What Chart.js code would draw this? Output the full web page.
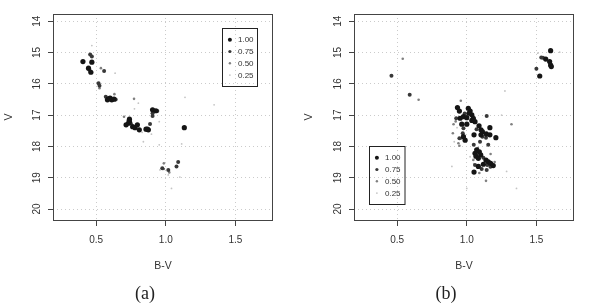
<!DOCTYPE html>
<html>
<head>
<meta charset="utf-8">
<script src="https://cdn.jsdelivr.net/npm/chart.js@4.4.0/dist/chart.umd.min.js"></script>
<style>
  body { margin: 0; background: #fff; }
  #wrap { position: relative; width: 600px; height: 303px; }
  .panel { position: absolute; top: 0; width: 300px; height: 303px; }
  .cap { position: absolute; font-family: "Liberation Serif", serif; font-size: 18px; color: #222; transform: translate(-50%, -50%); }
</style>
</head>
<body>
<div id="wrap">
  <div class="panel" style="left:0"><canvas id="chartA" width="300" height="303"></canvas></div>
  <div class="panel" style="left:300px"><canvas id="chartB" width="300" height="303"></canvas></div>
  <div class="cap" style="left:145px; top:293px">(a)</div>
  <div class="cap" style="left:446px; top:293px">(b)</div>
</div>
<script>
/*---- data ----*/
var bvTicks = [0.5, 1.0, 1.5];
var vTicks = [14, 15, 16, 17, 18, 19, 20];
var probLabels = ['1.00', '0.75', '0.50', '0.25'];

// panel (a)
var a100 = [[0.405,15.29],[0.469,15.31],[0.445,15.50],[0.462,15.63],[0.588,16.48],[0.600,16.46],[0.612,16.51],
  [0.628,16.49],[0.581,16.51],[0.905,16.83],[0.929,16.86],[0.739,17.13],[0.739,17.21],[0.732,17.26],[0.715,17.31],
  [0.762,17.37],[0.779,17.40],[0.796,17.31],[0.810,17.47],[0.858,17.45],[0.875,17.47],[0.868,17.45],[1.133,17.40]];
var a75 = [[0.457,15.06],[0.469,15.13],[0.452,15.56],[0.557,15.59],[0.517,15.98],[0.524,16.06],[0.569,16.41],
  [0.640,16.50],[0.939,16.87],[0.905,16.94],[0.905,17.03],[0.748,17.26],[0.887,17.28],[0.975,18.70],[1.018,18.75],
  [1.077,18.64],[1.089,18.50]];
var a50 = [[0.534,15.50],[0.524,16.14],[0.631,16.33],[0.772,16.48],[0.700,17.05],[0.986,18.54],[0.986,18.72],
  [1.025,18.83],[0.725,17.18]];
var a25 = [[0.469,14.78],[0.636,15.66],[0.803,16.62],[0.775,16.80],[0.897,17.61],[0.953,17.21],[0.839,17.85],
  [1.138,16.43],[1.114,17.92],[0.953,17.95],[0.958,18.75],[1.101,18.98],[1.041,19.34],[1.018,18.91],[1.347,16.67],
  [0.830,17.55]];

// panel (b)
var b100 = [[1.524,15.75],[1.567,15.21],[1.595,15.29],[1.602,15.40],[1.607,15.45],[1.602,14.94],
  [0.933,16.76],[0.947,16.87],[1.011,16.78],[1.024,16.87],[0.952,17.10],[0.976,17.05],[1.000,17.08],[1.036,16.99],
  [1.047,17.10],[1.059,17.21],[0.964,17.29],[1.000,17.29],[1.088,17.34],[1.102,17.47],[1.166,17.40],[1.052,17.63],
  [1.102,17.63],[1.166,17.63],[0.976,17.69],[1.209,17.72],[1.071,18.11],[1.090,18.17],[1.059,18.22],[1.100,18.27],
  [1.066,18.31],[1.083,18.38],[1.138,18.44],[1.154,18.49],[1.171,18.54],[1.190,18.61],[1.119,18.57],[1.083,18.64],
  [1.052,18.82],[1.016,16.94],[1.036,17.17],[0.988,17.80],[1.112,17.53],[1.140,17.60]];
var b75 = [[0.459,15.74],[0.590,16.35],[1.500,15.52],[1.535,15.16],[1.547,15.17],[0.924,17.10],[1.143,17.03],
  [0.976,17.42],[0.971,17.58],[0.947,17.74],[1.138,17.72],[1.095,17.85],[1.154,17.95],[1.119,18.36],[1.147,18.59],
  [1.107,18.72],[1.143,18.75],[1.059,18.59],[1.112,17.69],[0.985,16.95],[1.070,17.45],[1.050,17.95],[1.170,18.65]];
var b50 = [[0.540,15.20],[0.654,16.51],[0.957,16.54],[0.905,17.29],[0.900,17.58],[0.940,17.90],[1.171,18.24],
  [1.138,19.10],[1.047,18.43],[1.321,17.29],[0.947,17.98],[0.920,17.20],[0.960,17.75],[1.080,18.05],[1.200,18.50],
  [1.090,18.85]];
var b25 = [[1.274,16.23],[1.510,15.02],[1.667,14.99],[1.024,18.33],[1.286,18.80],[1.000,19.34],[0.893,18.64],
  [1.357,19.34],[0.930,17.40],[0.910,17.85],[1.250,17.00],[1.050,18.55]];

/*---- styles ----*/
var dotColors = ['#151515', '#383838', '#808080', '#c4c4c4'];
var dotRadius = [2.6, 2.0, 1.3, 0.9];
var legRadius = [2.0, 1.6, 1.2, 0.9];

Chart.defaults.font.family = '"Liberation Sans", Arial, sans-serif';
Chart.defaults.color = '#333';

// box around the plot + the probability legend
var boxPlugin = {
  id: 'rbox',
  afterDraw: function (chart, args, opts) {
    var c = chart.ctx, a = chart.chartArea;
    c.save();
    c.strokeStyle = '#444';
    c.lineWidth = 1;
    c.strokeRect(Math.round(a.left) + 0.5, Math.round(a.top) + 0.5,
      Math.round(a.right - a.left) - 1, Math.round(a.bottom - a.top));
    // legend
    var lx = Math.round(a.left + opts.x) + 0.5, ly = Math.round(a.top + opts.y) + 0.5;
    c.strokeStyle = '#222';
    c.strokeRect(lx, ly, opts.w, opts.h);
    c.font = '8px "Liberation Sans", Arial, sans-serif';
    c.textBaseline = 'middle';
    c.textAlign = 'left';
    for (var i = 0; i < probLabels.length; i++) {
      var yy = ly + 11.2 + i * 11.8;
      c.fillStyle = dotColors[i];
      c.beginPath();
      c.arc(lx + 7.4, yy, legRadius[i], 0, Math.PI * 2);
      c.fill();
      c.fillStyle = '#333';
      c.fillText(probLabels[i], lx + 15.5, yy + 0.5);
    }
    c.restore();
  }
};

function makeCMD(id, sets, yWidth, rightPad, legend) {
  var ctx = document.getElementById(id).getContext('2d');
  return new Chart(ctx, {
    type: 'scatter',
    data: {
      datasets: sets.map(function (d, i) {
        return {
          label: probLabels[i],
          data: d,
          backgroundColor: dotColors[i],
          borderWidth: 0,
          pointRadius: dotRadius[i]
        };
      })
    },
    options: {
      responsive: false,
      animation: false,
      events: [],
      layout: { padding: { top: 14, right: rightPad, left: 0, bottom: 0 } },
      plugins: { legend: { display: false }, tooltip: { enabled: false }, rbox: legend },
      scales: {
        x: {
          type: 'linear',
          min: 0.19, max: 1.77,
          afterBuildTicks: function (s) { s.ticks = bvTicks.map(function (v) { return { value: v }; }); },
          afterFit: function (s) { s.height = 83; },
          ticks: { font: { size: 10 }, padding: 8, callback: function (v) { return v.toFixed(1); } },
          grid: { color: '#cbcbcb', tickColor: '#444', tickLength: 6, tickBorderDash: [] },
          border: { display: false, dash: [1, 3] },
          title: { display: true, text: 'B-V', font: { size: 10.5 }, padding: { top: 0, bottom: 30.5 } }
        },
        y: {
          type: 'linear',
          reverse: true,
          min: 13.77, max: 20.35,
          afterBuildTicks: function (s) { s.ticks = vTicks.map(function (v) { return { value: v }; }); },
          afterFit: function (s) { s.width = yWidth; },
          ticks: { font: { size: 10 }, padding: 5, minRotation: 90, maxRotation: 90, crossAlign: 'center' },
          grid: { color: '#cbcbcb', tickColor: '#444', tickLength: 5, tickBorderDash: [] },
          border: { display: false, dash: [1, 3] },
          title: { display: true, text: 'V', font: { size: 10.5 }, padding: { top: 2.5, bottom: 0 } }
        }
      }
    },
    plugins: [boxPlugin]
  });
}

var chartA = makeCMD('chartA', [a100, a75, a50, a25], 53, 27, { x: 168.7, y: 13.7, w: 35, h: 58 });
var chartB = makeCMD('chartB', [b100, b75, b50, b25], 54, 26, { x: 15, y: 132, w: 35.5, h: 58 });
</script>
</body>
</html>
